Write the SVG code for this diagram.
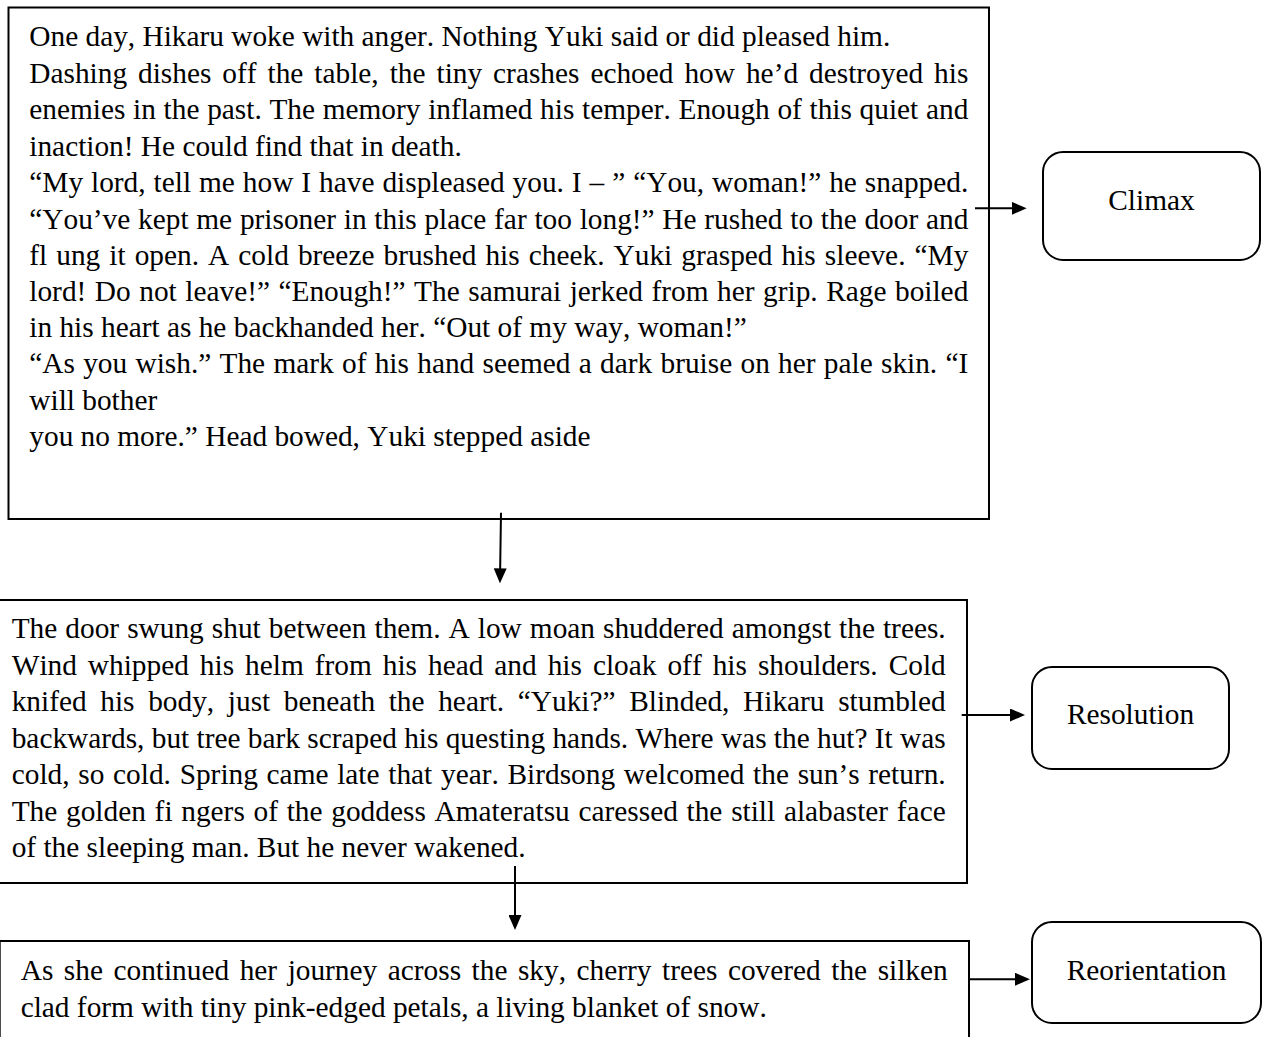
<svg xmlns="http://www.w3.org/2000/svg" width="1264" height="1037" viewBox="0 0 1264 1037">
<defs>
<style>
.box{fill:#fff;stroke:#000;stroke-width:2}
.rbox{fill:#fff;stroke:#000;stroke-width:2}
.t{font-family:"Liberation Serif","Times New Roman",serif;font-size:29.33px;fill:#000;font-kerning:none}
.lbl{font-family:"Liberation Serif","Times New Roman",serif;font-size:29.33px;fill:#000;text-anchor:middle;font-kerning:none}
.conn{stroke:#000;stroke-width:2;fill:none}
</style>
<marker id="ah" viewBox="0 0 15 13" refX="5" refY="6.5" markerWidth="15" markerHeight="13" markerUnits="userSpaceOnUse" orient="auto">
<path d="M0,0 L15,6.5 L0,13 z" fill="#000"/>
</marker>
</defs>
<rect width="1264" height="1037" fill="#fff"/>

<g id="climax-text">
<rect class="box" x="8.5" y="7.5" width="980.5" height="511.5"/>
<text class="t" x="29.3" y="46">One day, Hikaru woke with anger. Nothing Yuki said or did pleased him.</text>
<text class="t" x="29.3" y="82.5" word-spacing="3.65" textLength="939" lengthAdjust="spacing">Dashing dishes off the table, the tiny crashes echoed how he’d destroyed his</text>
<text class="t" x="29.3" y="119" word-spacing="0.35" textLength="939" lengthAdjust="spacing">enemies in the past. The memory inflamed his temper. Enough of this quiet and</text>
<text class="t" x="29.3" y="155.5">inaction! He could find that in death.</text>
<text class="t" x="29.3" y="192" word-spacing="0.64" textLength="939" lengthAdjust="spacing">“My lord, tell me how I have displeased you. I – ” “You, woman!” he snapped.</text>
<text class="t" x="29.3" y="229" word-spacing="0.42" textLength="939" lengthAdjust="spacing">“You’ve kept me prisoner in this place far too long!” He rushed to the door and</text>
<text class="t" x="29.3" y="265" word-spacing="1.73" textLength="939" lengthAdjust="spacing">fl ung it open. A cold breeze brushed his cheek. Yuki grasped his sleeve. “My</text>
<text class="t" x="29.3" y="301" word-spacing="1.21" textLength="939" lengthAdjust="spacing">lord! Do not leave!” “Enough!” The samurai jerked from her grip. Rage boiled</text>
<text class="t" x="29.3" y="337">in his heart as he backhanded her. “Out of my way, woman!”</text>
<text class="t" x="29.3" y="373.3" word-spacing="0.96" textLength="939" lengthAdjust="spacing">“As you wish.” The mark of his hand seemed a dark bruise on her pale skin. “I</text>
<text class="t" x="29.3" y="409.5">will bother</text>
<text class="t" x="29.3" y="446">you no more.” Head bowed, Yuki stepped aside</text>
</g>

<g id="resolution-text">
<rect class="box" x="-2" y="600" width="969" height="283"/>
<text class="t" x="11.7" y="638" word-spacing="0.72" textLength="934" lengthAdjust="spacing">The door swung shut between them. A low moan shuddered amongst the trees.</text>
<text class="t" x="11.7" y="674.5" word-spacing="3.66" textLength="934" lengthAdjust="spacing">Wind whipped his helm from his head and his cloak off his shoulders. Cold</text>
<text class="t" x="11.7" y="711" word-spacing="6.32" textLength="934" lengthAdjust="spacing">knifed his body, just beneath the heart. “Yuki?” Blinded, Hikaru stumbled</text>
<text class="t" x="11.7" y="747.5" textLength="934" lengthAdjust="spacing">backwards, but tree bark scraped his questing hands. Where was the hut? It was</text>
<text class="t" x="11.7" y="784" word-spacing="1.4" textLength="934" lengthAdjust="spacing">cold, so cold. Spring came late that year. Birdsong welcomed the sun’s return.</text>
<text class="t" x="11.7" y="820.5" word-spacing="1.41" textLength="934" lengthAdjust="spacing">The golden fi ngers of the goddess Amateratsu caressed the still alabaster face</text>
<text class="t" x="11.7" y="857">of the sleeping man. But he never wakened.</text>
</g>

<g id="reorientation-text">
<rect class="box" x="-0.3" y="941" width="969.3" height="110"/>
<text class="t" x="20.7" y="980" word-spacing="3.2" textLength="927" lengthAdjust="spacing">As she continued her journey across the sky, cherry trees covered the silken</text>
<text class="t" x="20.7" y="1017">clad form with tiny pink-edged petals, a living blanket of snow.</text>
</g>

<g id="climax-label">
<rect class="rbox" x="1043" y="152" width="217" height="108" rx="20" ry="20"/>
<text class="lbl" x="1151.5" y="210">Climax</text>
</g>

<g id="resolution-label">
<rect class="rbox" x="1032" y="667" width="197" height="102" rx="20" ry="20"/>
<text class="lbl" x="1130.5" y="724">Resolution</text>
</g>

<g id="reorientation-label">
<rect class="rbox" x="1032" y="922" width="229" height="101" rx="20" ry="20"/>
<text class="lbl" x="1146.5" y="980">Reorientation</text>
</g>

<g id="connectors">
<line class="conn" x1="975" y1="208.3" x2="1016.7" y2="208.3" marker-end="url(#ah)"/>
<line class="conn" x1="961.7" y1="715" x2="1015" y2="715" marker-end="url(#ah)"/>
<line class="conn" x1="970" y1="979.3" x2="1020" y2="979.3" marker-end="url(#ah)"/>
<line class="conn" x1="501" y1="512.7" x2="500.1" y2="573.3" marker-end="url(#ah)"/>
<line class="conn" x1="515" y1="866" x2="515" y2="920" marker-end="url(#ah)"/>
</g>
</svg>
